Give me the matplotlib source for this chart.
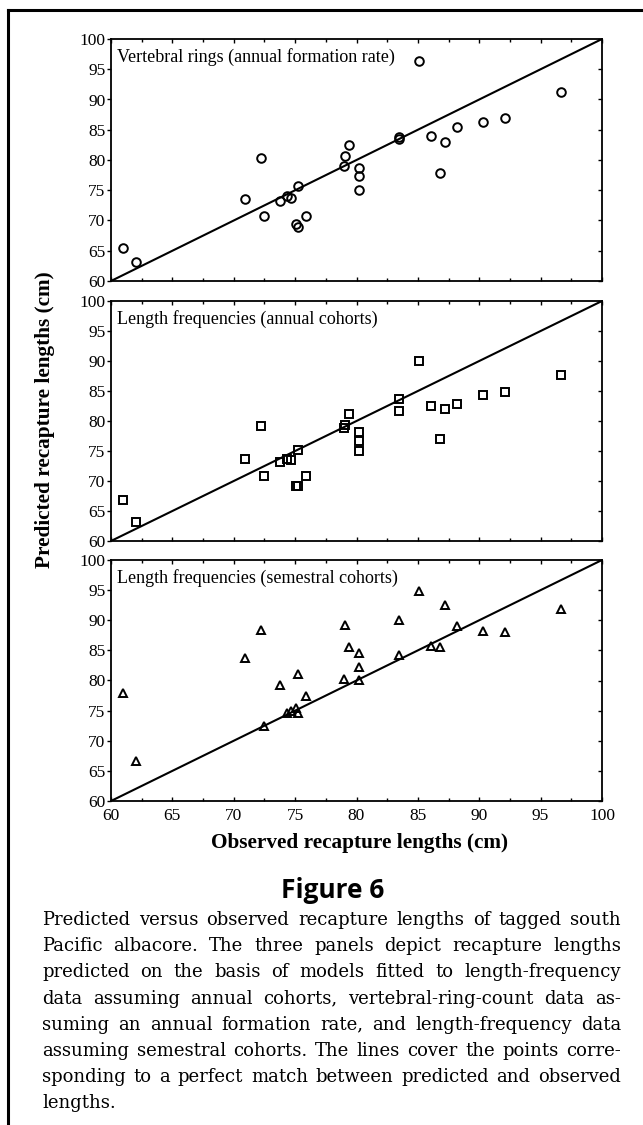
import numpy as np
import matplotlib
matplotlib.use("Agg")
import matplotlib.pyplot as plt
from matplotlib.lines import Line2D
from matplotlib.ticker import MultipleLocator

# observed recapture lengths (cm), same fish in every panel
observed = [61.0, 62.0, 70.9, 72.2, 72.5, 73.8, 74.3, 74.7, 75.2, 75.1,
            75.2, 75.9, 79.0, 79.1, 79.4, 80.2, 80.2, 80.2, 83.5, 83.5,
            85.1, 86.1, 86.8, 87.2, 88.2, 90.3, 92.1, 96.7]

# predicted recapture lengths (cm)
pred_rings = [65.4, 63.2, 73.6, 80.3, 70.7, 73.3, 74.1, 73.7, 75.7, 69.5,
              69.0, 70.8, 79.0, 80.7, 82.5, 78.7, 77.4, 75.1, 83.8, 83.5,
              96.3, 83.9, 77.8, 83.0, 85.4, 86.3, 86.9, 91.3]
pred_annual = [66.9, 63.2, 73.7, 79.2, 70.8, 73.2, 73.6, 73.5, 75.2, 69.2,
               69.1, 70.8, 78.9, 79.4, 81.1, 78.2, 76.7, 75.0, 83.6, 81.6,
               90.0, 82.5, 77.0, 82.0, 82.8, 84.3, 84.8, 87.6]
pred_semestral = [77.9, 66.6, 83.8, 88.3, 72.5, 79.2, 74.6, 75.0, 74.6, 75.5,
                  81.0, 77.5, 80.2, 89.2, 85.6, 84.5, 82.2, 80.1, 90.1, 84.2,
                  94.8, 85.8, 85.5, 92.6, 89.0, 88.2, 88.1, 91.9]

panel_titles = ["Vertebral rings (annual formation rate)",
                "Length frequencies (annual cohorts)",
                "Length frequencies (semestral cohorts)"]
panel_markers = ["o", "s", "^"]
panel_preds = [pred_rings, pred_annual, pred_semestral]

caption_lines = [
    "Predicted versus observed recapture lengths of tagged south",
    "Pacific albacore. The three panels depict recapture lengths",
    "predicted on the basis of models fitted to length-frequency",
    "data assuming annual cohorts, vertebral-ring-count data as-",
    "suming an annual formation rate, and length-frequency data",
    "assuming semestral cohorts. The lines cover the points corre-",
    "sponding to a perfect match between predicted and observed",
    "lengths.",
]

W, H = 643, 1125
fig = plt.figure(figsize=(W / 100, H / 100), dpi=100)

serif = "Liberation Serif"
left, right = 111, 602
tops = [39, 301, 560]
bottoms = [281, 541, 801]
msizes = [6.2, 6.0, 5.6]

for i in range(3):
    ax = fig.add_axes([left / W, 1 - bottoms[i] / H,
                       (right - left) / W, (bottoms[i] - tops[i]) / H])
    ax.plot([60, 100], [60, 100], color="black", lw=1.5)
    ax.plot(observed, panel_preds[i], linestyle="none",
            marker=panel_markers[i], ms=msizes[i], mfc="none",
            mec="black", mew=1.4)
    ax.set_xlim(60, 100)
    ax.set_ylim(60, 100)
    ax.xaxis.set_major_locator(MultipleLocator(5))
    ax.xaxis.set_minor_locator(MultipleLocator(2.5))
    ax.yaxis.set_major_locator(MultipleLocator(5))
    ax.tick_params(axis="y", which="major", direction="out", length=3,
                   width=1, labelsize=12.5, pad=1, right=False)
    ax.tick_params(axis="x", which="both", direction="in", length=3,
                   width=1, labelsize=12.5, top=True, pad=5)
    ax.tick_params(axis="x", which="minor", length=2)
    for lab in ax.get_xticklabels() + ax.get_yticklabels():
        lab.set_family(serif)
    # right side ticks, pointing in
    sec = ax.secondary_yaxis("right")
    sec.yaxis.set_major_locator(MultipleLocator(5))
    sec.tick_params(direction="in", length=3, width=1, labelright=False)
    sec.spines["right"].set_visible(False)
    if i < 2:
        ax.tick_params(axis="x", labelbottom=False)
    for sp in ax.spines.values():
        sp.set_linewidth(1.3)
    ax.text(0.013, 0.925, panel_titles[i], transform=ax.transAxes,
            family=serif, fontsize=13, va="center", ha="left")

fig.text(45 / W, 1 - 420 / H, "Predicted recapture lengths (cm)",
         rotation=90, ha="center", va="center", family=serif,
         weight="bold", fontsize=15.3)
fig.text(359 / W, 1 - 843 / H, "Observed recapture lengths (cm)",
         ha="center", va="center", family=serif, weight="bold", fontsize=15.3)
fig.text(333 / W, 1 - 890 / H, "Figure 6", ha="center", va="center",
         family="Open Sans", weight="bold", fontsize=19)

# frame lines of the page
fig.add_artist(Line2D([8 / W, 8 / W], [0, 1 - 10 / H], color="black",
                      lw=2.2, transform=fig.transFigure))
fig.add_artist(Line2D([8 / W, 1], [1 - 10 / H, 1 - 10 / H], color="black",
                      lw=2.2, transform=fig.transFigure))

# justified caption
fig.canvas.draw()
rend = fig.canvas.get_renderer()
cap_left, cap_right = 42, 621
cap_kw = dict(family="DejaVu Serif", fontsize=13.0, va="baseline", ha="left")
space = fig.text(0, 0, "a a", **cap_kw)
sw = space.get_window_extent(rend).width
aa = fig.text(0, 0, "aa", **cap_kw)
sw = sw - aa.get_window_extent(rend).width
space.remove()
aa.remove()
for k, line in enumerate(caption_lines):
    yb = 925 + 26.2 * k
    words = line.split()
    texts = [fig.text(0, 1 - yb / H, w, **cap_kw) for w in words]
    widths = [t.get_window_extent(rend).width for t in texts]
    if k == len(caption_lines) - 1 or len(words) == 1:
        gap = sw
    else:
        gap = max((cap_right - cap_left - sum(widths)) / (len(words) - 1), 3)
    x = cap_left
    for t, w in zip(texts, widths):
        t.set_x(x / W)
        x += w + gap

fig.savefig("out.png", dpi=100)
